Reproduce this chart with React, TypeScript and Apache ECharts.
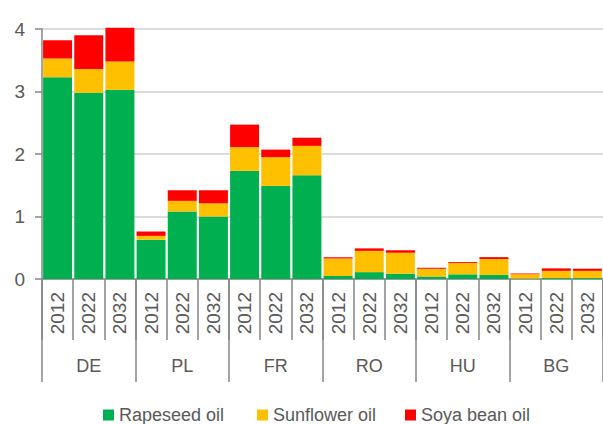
import React, { useEffect, useRef } from "react";
import * as echarts from "echarts";

const years = ["2012", "2022", "2032", "2012", "2022", "2032", "2012", "2022", "2032", "2012", "2022", "2032", "2012", "2022", "2032", "2012", "2022", "2032"];
const countries = ["DE", "PL", "FR", "RO", "HU", "BG"];
const seriesNames = ["Rapeseed oil", "Sunflower oil", "Soya bean oil"];
const rapeseed = [3.23, 2.98, 3.03, 0.63, 1.08, 1.0, 1.73, 1.49, 1.66, 0.05, 0.11, 0.085, 0.04, 0.075, 0.065, 0.01, 0.015, 0.015];
const sunflower = [0.3, 0.38, 0.45, 0.06, 0.17, 0.21, 0.38, 0.46, 0.47, 0.28, 0.34, 0.335, 0.125, 0.18, 0.255, 0.065, 0.115, 0.115];
const soya = [0.29, 0.54, 0.54, 0.07, 0.17, 0.21, 0.36, 0.12, 0.13, 0.02, 0.04, 0.04, 0.015, 0.015, 0.03, 0.015, 0.04, 0.035];
const yTicks = [0, 1, 2, 3, 4];

const FONT = "'Liberation Sans', Arial, sans-serif";
const TEXT = "#595959";
const AXIS = "#868686";
const COLORS = ["#00B050", "#FFC000", "#FF0000"];
const LEGEND_LEFT = [103, 257, 405];

export default function App() {
  const ref = useRef<HTMLDivElement>(null);
  useEffect(() => {
    if (!ref.current) return;
    const chart = echarts.init(ref.current, undefined, { renderer: "svg" });
    const values = [rapeseed, sunflower, soya];
    chart.setOption({
      animation: false,
      textStyle: { fontFamily: FONT },
      grid: { left: 42, right: 0, top: 29, bottom: 145, containLabel: false },
      legend: seriesNames.map((n, i) => ({
        left: LEGEND_LEFT[i],
        top: 406,
        padding: 0,
        itemWidth: 11,
        itemHeight: 11,
        icon: "rect",
        textStyle: { fontSize: 18, color: TEXT, fontFamily: FONT },
        data: [n],
      })),
      xAxis: [
        {
          type: "category",
          position: "bottom",
          data: years,
          axisLine: { show: true, lineStyle: { color: AXIS, width: 1.5 } },
          axisTick: { show: true, interval: 0, length: 61, lineStyle: { color: AXIS, width: 1.5 } },
          axisLabel: { interval: 0, rotate: 90, margin: 13, fontSize: 19, color: TEXT, fontFamily: FONT },
        },
        {
          type: "category",
          position: "bottom",
          offset: 0,
          data: countries,
          axisLine: { show: false },
          axisTick: { show: true, interval: 0, length: 103, lineStyle: { color: AXIS, width: 1.5 } },
          axisLabel: { interval: 0, margin: 78, fontSize: 18, color: TEXT, fontFamily: FONT },
        },
      ],
      yAxis: {
        type: "value",
        min: yTicks[0],
        max: yTicks[yTicks.length - 1],
        interval: 1,
        axisLine: { show: true, lineStyle: { color: AXIS, width: 1.5 } },
        axisTick: { show: true, length: 7, lineStyle: { color: AXIS, width: 1.5 } },
        axisLabel: { margin: 17, fontSize: 19, color: TEXT, fontFamily: FONT },
        splitLine: { show: true, lineStyle: { color: "#d0d0d0", width: 1.5 } },
      },
      series: seriesNames.map((n, i) => ({
        name: n,
        type: "bar",
        stack: "total",
        xAxisIndex: 0,
        data: values[i],
        barCategoryGap: "7%",
        clip: false,
        itemStyle: { color: COLORS[i] },
      })),
    });
    return () => chart.dispose();
  }, []);
  return <div ref={ref} style={{ width: 603, height: 424, position: "absolute", left: 0, top: 0 }} />;
}
